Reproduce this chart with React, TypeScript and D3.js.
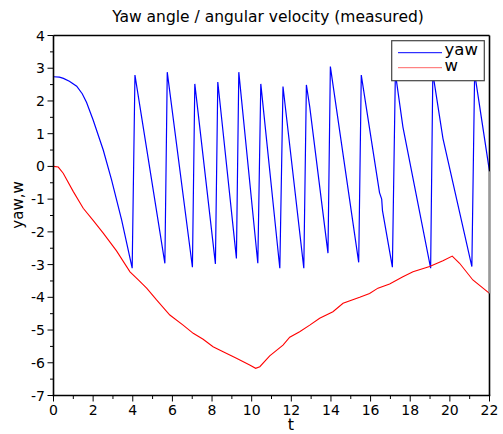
import React from "react";
import * as d3 from "d3";

const yawT = [0, 0.3, 0.5, 0.8, 1.17, 1.45, 1.67, 2.0, 2.51, 2.93, 3.44, 3.97, 4.11, 5.62, 5.74, 7.01, 7.13, 8.17, 8.29, 9.23, 9.35, 10.31, 10.46, 11.42, 11.58, 12.63, 12.76, 12.93, 13.85, 13.97, 15.4, 15.53, 16.45, 16.56, 16.6, 17.1, 17.25, 17.63, 19.03, 19.14, 19.65, 21.11, 21.25, 22.0];
const yawV = [2.74, 2.73, 2.69, 2.6, 2.45, 2.22, 1.95, 1.42, 0.5, -0.41, -1.64, -3.11, 2.79, -2.96, 2.88, -3.08, 2.52, -2.98, 2.58, -2.81, 2.88, -2.96, 2.52, -3.11, 2.44, -3.11, 2.49, 1.82, -2.65, 3.05, -2.93, 2.79, -0.8, -1.0, -1.35, -3.08, 2.85, 1.21, -3.11, 2.85, 0.86, -3.06, 2.85, -0.15];

const wT = [0, 0.24, 0.49, 1.0, 1.5, 2.0, 2.51, 3.18, 3.86, 4.28, 4.7, 5.2, 5.87, 6.54, 7.05, 7.55, 8.05, 8.56, 9.23, 9.9, 10.2, 10.41, 10.91, 11.58, 11.92, 12.42, 12.93, 13.43, 14.1, 14.61, 15.45, 15.95, 16.37, 16.96, 17.63, 18.14, 18.98, 19.65, 20.12, 20.49, 21.16, 22.0];
const wV = [0, -0.02, -0.21, -0.77, -1.28, -1.65, -2.04, -2.58, -3.22, -3.47, -3.72, -4.08, -4.54, -4.85, -5.1, -5.28, -5.51, -5.66, -5.86, -6.07, -6.17, -6.12, -5.79, -5.46, -5.22, -5.05, -4.85, -4.64, -4.44, -4.18, -4.0, -3.88, -3.72, -3.59, -3.37, -3.22, -3.06, -2.88, -2.74, -2.96, -3.47, -3.88];

const xTicks = [0, 2, 4, 6, 8, 10, 12, 14, 16, 18, 20, 22];
const xMinor = [1, 3, 5, 7, 9, 11, 13, 15, 17, 19, 21];
const yTicks = [4, 3, 2, 1, 0, -1, -2, -3, -4, -5, -6, -7];
const yMinor = [3.5, 2.5, 1.5, 0.5, -0.5, -1.5, -2.5, -3.5, -4.5, -5.5, -6.5];

const title = "Yaw angle / angular velocity (measured)";
const xLabel = "t";
const yLabel = "yaw,w";
const seriesNames = ["yaw", "w"];

export default function App() {
  const W = 503, H = 434;
  const L = 53.5, R = 489.5, T = 35.5, B = 395.5;
  const x = d3.scaleLinear().domain([0, 22]).range([L, R]);
  const y = d3.scaleLinear().domain([-7, 4]).range([B, T]);
  const font = "DejaVu Sans, sans-serif";

  const yawPts: [number, number][] = yawT.map((t, i) => [t, yawV[i]]);
  const wPts: [number, number][] = wT.map((t, i) => [t, wV[i]]);
  const line = d3.line<[number, number]>().x((d) => x(d[0])).y((d) => y(d[1]));

  return (
    <svg width={W} height={H} style={{ position: "absolute", left: 0, top: 0, background: "#fff" }} fontFamily={font}>
      <rect x={0} y={0} width={W} height={H} fill="#fff" />
      <text x={268} y={22} fontSize={15.5} textAnchor="middle" fill="#000">{title}</text>
      <defs>
        <clipPath id="clip">
          <rect x={L} y={T} width={R - L} height={B - T} />
        </clipPath>
      </defs>
      <g clipPath="url(#clip)">
        <path d={line(yawPts) || ""} fill="none" stroke="#0000ff" strokeWidth={1.2} />
        <path d={line(wPts) || ""} fill="none" stroke="#ff0000" strokeWidth={1.1} />
      </g>
      {/* frame */}
      <line x1={L} x2={R} y1={T} y2={T} stroke="#000" strokeWidth={1.6} />
      <line x1={R} x2={R} y1={T} y2={B} stroke="#000" strokeWidth={1.6} />
      <line x1={R} x2={R} y1={y(yawV[yawV.length - 1])} y2={y(wV[wV.length - 1])} stroke="#999" strokeWidth={1.6} />
      <line x1={L} x2={L} y1={T} y2={B + 0.8} stroke="#000" strokeWidth={1.6} />
      <line x1={L - 0.8} x2={R + 0.8} y1={B} y2={B} stroke="#000" strokeWidth={1.6} />
      {/* y ticks */}
      {yTicks.map((v) => (
        <g key={"y" + v}>
          <line x1={L - 6} x2={L} y1={y(v)} y2={y(v)} stroke="#000" strokeWidth={1} />
          <text x={45} y={y(v) + 5} fontSize={14} textAnchor="end" fill="#000">{v}</text>
        </g>
      ))}
      {yMinor.map((v) => (
        <line key={"ym" + v} x1={L - 3.5} x2={L} y1={y(v)} y2={y(v)} stroke="#000" strokeWidth={1} />
      ))}
      {/* x ticks */}
      {xTicks.map((v) => (
        <g key={"x" + v}>
          <line x1={x(v)} x2={x(v)} y1={B} y2={B + 6} stroke="#000" strokeWidth={1} />
          <text x={x(v)} y={415} fontSize={14} textAnchor="middle" fill="#000">{v}</text>
        </g>
      ))}
      {xMinor.map((v) => (
        <line key={"xm" + v} x1={x(v)} x2={x(v)} y1={B} y2={B + 3.5} stroke="#000" strokeWidth={1} />
      ))}
      <text x={291} y={430} fontSize={16} textAnchor="middle" fill="#000">{xLabel}</text>
      <text transform="translate(23,205) rotate(-90)" fontSize={15} textAnchor="middle" fill="#000">{yLabel}</text>
      {/* legend */}
      <rect x={391.7} y={40.7} width={92.6} height={40} fill="#fff" stroke="#444" strokeWidth={1.2} />
      <line x1={398} x2={442} y1={52.7} y2={52.7} stroke="#0000ff" strokeWidth={1} />
      <line x1={398} x2={442} y1={67.7} y2={67.7} stroke="#ff0000" strokeWidth={1} opacity={0.6} />
      <text x={444.5} y={54.5} fontSize={16.5} fill="#000">{seriesNames[0]}</text>
      <text x={444.5} y={70.5} fontSize={16.5} fill="#000">{seriesNames[1]}</text>
    </svg>
  );
}
